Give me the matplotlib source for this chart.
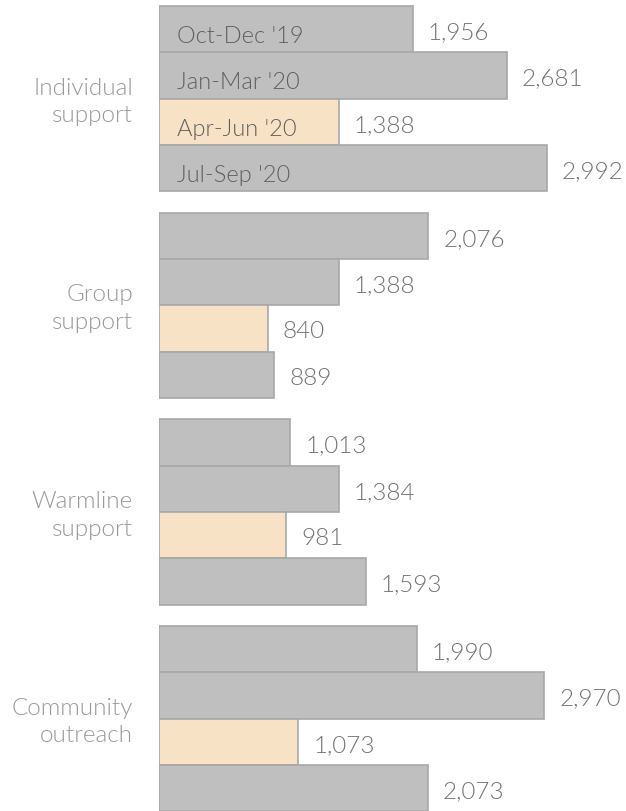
import matplotlib
matplotlib.use("Agg")
import matplotlib.pyplot as plt

plt.rcParams['font.family'] = ['Lato', 'DejaVu Sans']

categories = ["Individual\nsupport", "Group\nsupport", "Warmline\nsupport", "Community\noutreach"]
quarters = ["Oct-Dec '19", "Jan-Mar '20", "Apr-Jun '20", "Jul-Sep '20"]
individual = [1956, 2681, 1388, 2992]
group = [2076, 1388, 840, 889]
warmline = [1013, 1384, 981, 1593]
community = [1990, 2970, 1073, 2073]
series = [individual, group, warmline, community]

GREY = "#bfbfbf"
PEACH = "#f8e2c6"
EDGE = "#a8a8a8"
step = 4.464  # group spacing in bar heights

fig = plt.figure(figsize=(6.26, 8.12), dpi=100)
ax = fig.add_axes([159 / 626, 0, 467 / 626, 1])
ax.set_xlim(0, 467 / 0.1297)
top = -7 / 46.3
ax.set_ylim(812 / 46.3 + top, top)
ax.axis("off")

for g, vals in enumerate(series):
    for i, v in enumerate(vals):
        y = g * step + i + 0.5
        color = PEACH if i == 2 else GREY
        ax.barh(y, v, height=1.0, color=color, edgecolor=EDGE, linewidth=1.2)
        ax.text(v + 115, y + 0.05, f"{v:,}", ha="left", va="center",
                fontsize=17.5, color="#737373", fontweight=300)
        if g == 0:
            ax.text(140, y + 0.14, quarters[i], ha="left", va="center",
                    fontsize=17, color="#606060", fontweight=300)
    ax.text(-200, g * step + 2.05, categories[g], ha="right", va="center",
            fontsize=17.5, color="#999999", fontweight=300, linespacing=1.4)

fig.savefig("out.png", dpi=100)
